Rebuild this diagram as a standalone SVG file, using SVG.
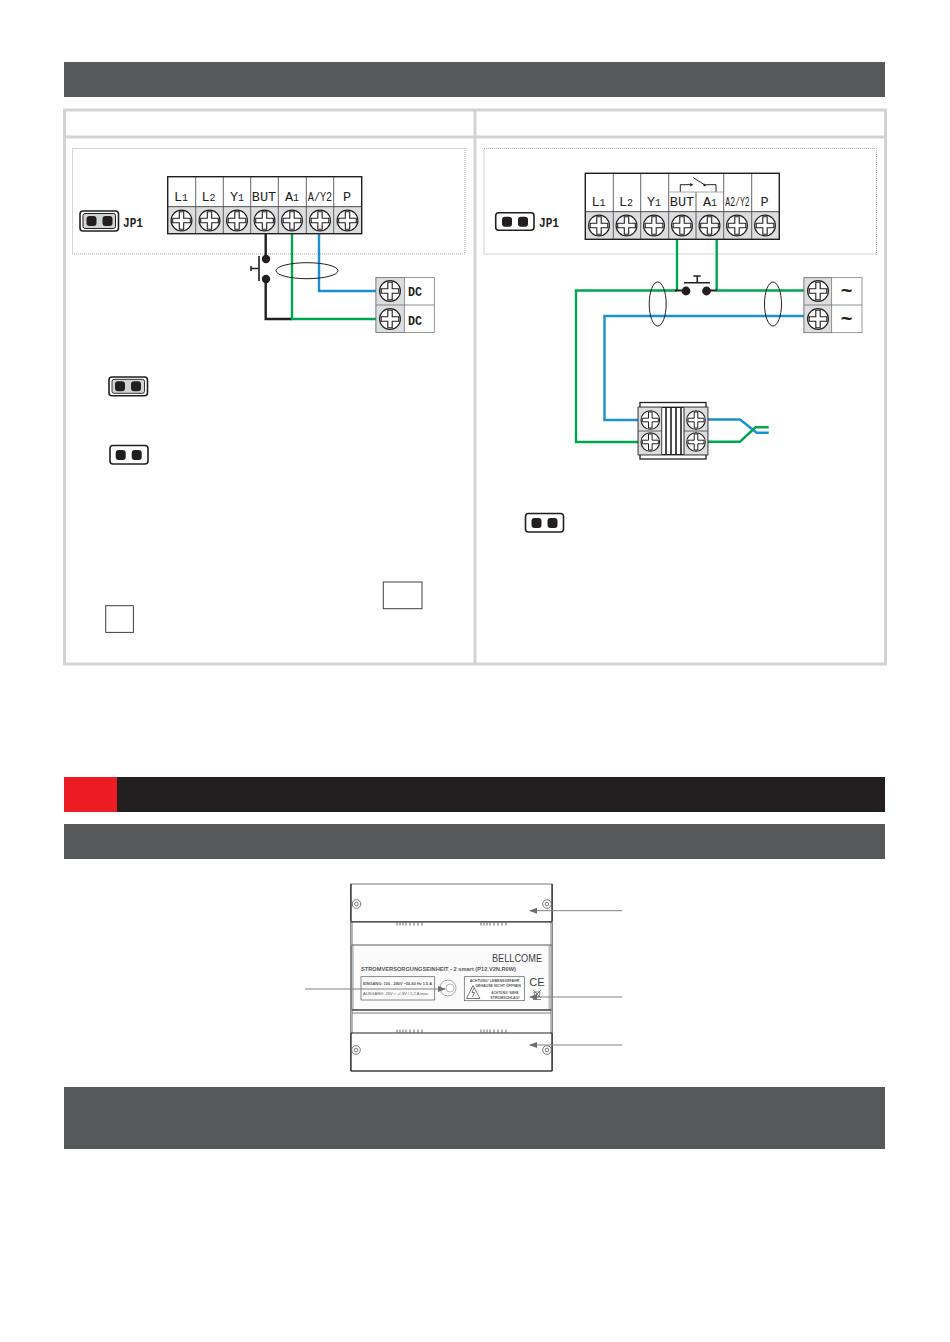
<svg xmlns="http://www.w3.org/2000/svg" xmlns:xlink="http://www.w3.org/1999/xlink" width="950" height="1342" viewBox="0 0 950 1342">
<style>
.bar{fill:#58595b}
.panel{fill:none;stroke:#d1d3d4;stroke-width:3}
.dash{fill:none;stroke:#a7a9ac;stroke-width:1;stroke-dasharray:1 1}
.cell{fill:#dcddde;stroke:#6d6e71;stroke-width:.7}
.lab{fill:#fff;stroke:#6d6e71;stroke-width:.7}
.div{stroke:#414042;stroke-width:.8;fill:none}
.t{font-family:"Liberation Mono","DejaVu Sans Mono",monospace;font-size:13.5px;fill:#231f20;text-anchor:middle;font-weight:400}
.s{font-size:10px}
.jp{font-family:"Liberation Mono","DejaVu Sans Mono",monospace;font-size:13px;fill:#231f20;font-weight:700}
.g{fill:none;stroke:#00a651;stroke-width:2.4}
.b{fill:none;stroke:#1b8fd2;stroke-width:2.4}
.k{fill:none;stroke:#231f20;stroke-width:2.4}
.thin{fill:none;stroke:#231f20;stroke-width:1}
.lead{fill:none;stroke:#808285;stroke-width:1;marker-end:url(#arrow)}
.dev{fill:none;stroke:#58595b;stroke-width:.8}
.devk{fill:none;stroke:#231f20;stroke-width:1.2}
.d{font-family:"Liberation Sans",Arial,sans-serif;fill:#58595b}
.dm{font-weight:700}
</style>
<defs>
<marker id="arrow" markerWidth="8" markerHeight="6" refX="7" refY="3" orient="auto" markerUnits="userSpaceOnUse"><path d="M8 0L0 3L8 6Z" transform="rotate(180 4 3)" fill="#6d6e71"/></marker>
<g id="screw"><circle r="10.4" fill="#fff" stroke="#231f20" stroke-width="1.2"/><path d="M-2.2-8.8H2.2V-2.2H8.8V2.2H2.2V8.8H-2.2V2.2H-8.8V-2.2H-2.2Z" fill="#fff" stroke="#231f20" stroke-width="1.1"/></g>
<g id="screw2"><circle r="9.3" fill="#fff" stroke="#231f20" stroke-width="1.1"/><path d="M-1.8-8H1.8V-1.8H8V1.8H1.8V8H-1.8V1.8H-8V-1.8H-1.8Z" fill="#fff" stroke="#231f20" stroke-width="1"/></g>
<g id="pins"><rect x="-5" y="-5" width="10" height="10" rx="3" fill="#231f20"/><rect x="11" y="-5" width="10" height="10" rx="3" fill="#231f20"/></g>
</defs>
<rect width="950" height="1342" fill="#fff"/>

<g id="header-top"><rect class="bar" x="64" y="62" width="821" height="35"/></g>
<g id="panels">
<rect class="panel" x="64.5" y="110" width="821" height="554"/>
<path class="panel" d="M475 110V664M64 137H886"/>
<rect class="dash" x="72.5" y="148.5" width="392.5" height="105.5"/>
<rect class="dash" x="484" y="148.5" width="392.5" height="105.5"/>
</g>

<g id="connectors">
<path class="k" d="M265.7 234V259M265.7 279V319H292"/>
<path class="g" d="M292 234V319H377"/>
<path class="b" d="M319 234V291H377"/>
<path class="g" d="M677 239V290.5M716.7 239V290.5"/>
<path class="g" d="M677 290.5H576V442H638.5M716.7 290.5H804"/>
<path class="b" d="M804 316H604.5V420H638.5"/>
<path class="k" style="stroke-width:2" d="M675 290.5H686M706.5 290.5H717"/>
<path class="b" d="M707.5 419.5H740L756.7 432.7H768.7"/>
<path class="g" d="M707.5 441.7H740L755.5 427.3H768.7"/>
</g>

<g id="terminal-left">
<rect class="lab" x="167.7" y="176.7" width="194" height="30"/>
<rect class="cell" x="167.7" y="206.7" width="194" height="27" style="stroke:none"/>
<path class="div" d="M195.7 176.7V233.7M223.3 176.7V233.7M250.7 176.7V233.7M278.3 176.7V233.7M306.3 176.7V233.7M333.7 176.7V233.7"/>
<rect x="167.7" y="176.7" width="194" height="57" fill="none" stroke="#231f20" stroke-width="1.4"/>
<path class="div" d="M167.7 206.7H361.7"/>
<use href="#screw" xlink:href="#screw" x="181.5" y="220.5"/><use href="#screw" xlink:href="#screw" x="209.5" y="220.5"/><use href="#screw" xlink:href="#screw" x="237" y="220.5"/><use href="#screw" xlink:href="#screw" x="264.5" y="220.5"/><use href="#screw" xlink:href="#screw" x="292" y="220.5"/><use href="#screw" xlink:href="#screw" x="320" y="220.5"/><use href="#screw" xlink:href="#screw" x="347.5" y="220.5"/>
<text class="t" x="181" y="201">L<tspan class="s">1</tspan></text>
<text class="t" x="208.5" y="201">L<tspan class="s">2</tspan></text>
<text class="t" x="237" y="201">Y<tspan class="s">1</tspan></text>
<text class="t" x="264" y="201">BUT</text>
<text class="t" x="292" y="201">A<tspan class="s">1</tspan></text>
<text class="t" transform="translate(320 201) scale(.85 1)" style="font-size:12px">A/Y2</text>
<text class="t" x="347" y="201">P</text>
</g>

<g id="jp1-left">
<rect x="80" y="211" width="38.5" height="20" rx="3" fill="#fff" stroke="#231f20" stroke-width="1.6"/>
<rect x="83" y="213.5" width="32.5" height="15" rx="2" fill="#d1d3d4" stroke="#231f20" stroke-width="1"/>
<use href="#pins" xlink:href="#pins" x="91.5" y="221"/>
<text class="jp" x="123" y="226.5" textLength="20" lengthAdjust="spacingAndGlyphs">JP1</text>
</g>

<g id="button-left">
<circle cx="266" cy="259" r="4.2" fill="#231f20"/><circle cx="266" cy="279" r="4.2" fill="#231f20"/>
<path class="k" style="stroke-width:1.6" d="M259 256V281M259 268.5H251M251 266V271"/>
<ellipse class="thin" cx="307" cy="270.7" rx="31" ry="8"/>
</g>

<g id="dc-terminal">
<rect class="lab" x="376" y="277.5" width="58.3" height="55"/>
<rect class="cell" x="376" y="277.5" width="28.3" height="55"/>
<path class="div" style="stroke:#6d6e71" d="M376 305H434.3"/>
<use href="#screw" xlink:href="#screw" x="390" y="291"/><use href="#screw" xlink:href="#screw" x="390" y="319"/>
<text class="t" x="415" y="295.5" style="font-weight:700" textLength="14" lengthAdjust="spacingAndGlyphs">DC</text>
<text class="t" x="415" y="324.5" style="font-weight:700" textLength="14" lengthAdjust="spacingAndGlyphs">DC</text>
</g>

<g id="jumper-closed"><rect x="109" y="377" width="38.5" height="18.7" rx="3" fill="#fff" stroke="#231f20" stroke-width="1.6"/><rect x="112" y="379.3" width="32.5" height="14" rx="2" fill="#d1d3d4" stroke="#231f20" stroke-width=".9"/><use href="#pins" xlink:href="#pins" x="120" y="386.3"/></g>
<g id="jumper-open"><rect x="110" y="445.5" width="38" height="18.5" rx="3" fill="#fff" stroke="#231f20" stroke-width="1.6"/><use href="#pins" xlink:href="#pins" x="120.7" y="455"/></g>
<g id="box-1"><rect x="383.3" y="582" width="38.7" height="26.7" fill="#fff" stroke="#414042" stroke-width="1"/></g>
<g id="box-2"><rect x="105.7" y="605.7" width="27.7" height="26.7" fill="#fff" stroke="#414042" stroke-width="1"/></g>

<g id="terminal-right">
<rect class="lab" x="585.3" y="173.3" width="194" height="38.4"/>
<rect class="cell" x="585.3" y="211.7" width="194" height="27.6" style="stroke:none"/>
<path class="div" d="M613.3 173.3V239.3M640.7 173.3V239.3M668.7 173.3V239.3M696 192V239.3M723.7 173.3V239.3M751.7 173.3V239.3"/>
<path d="M668.7 192H723.7" fill="none" stroke="#939598" stroke-width=".8"/>
<rect x="585.3" y="173.3" width="194" height="66" fill="none" stroke="#231f20" stroke-width="1.4"/>
<path class="div" d="M585.3 211.7H779.3"/>
<path class="thin" d="M680.3 191.7V184.7H691M693.3 177.7L706 185.7M706 184.7H716V191.7"/>
<path d="M693.3 184.7l-3-1.7v3.4Z" fill="#231f20"/>
<circle cx="704.5" cy="185" r="1.2" fill="#231f20"/>
<use href="#screw" xlink:href="#screw" x="599" y="225.5"/><use href="#screw" xlink:href="#screw" x="626.5" y="225.5"/><use href="#screw" xlink:href="#screw" x="654" y="225.5"/><use href="#screw" xlink:href="#screw" x="682" y="225.5"/><use href="#screw" xlink:href="#screw" x="709.5" y="225.5"/><use href="#screw" xlink:href="#screw" x="737" y="225.5"/><use href="#screw" xlink:href="#screw" x="765" y="225.5"/>
<text class="t" x="598.5" y="206">L<tspan class="s">1</tspan></text>
<text class="t" x="626" y="206">L<tspan class="s">2</tspan></text>
<text class="t" x="654" y="206">Y<tspan class="s">1</tspan></text>
<text class="t" x="682" y="206">BUT</text>
<text class="t" x="710" y="206">A<tspan class="s">1</tspan></text>
<text class="t" transform="translate(737.5 206) scale(.68 1)" style="font-size:12px">A2/Y2</text>
<text class="t" x="764.5" y="206">P</text>
</g>

<g id="jp1-right">
<rect x="495.7" y="212.7" width="38.3" height="17.5" rx="3" fill="#fff" stroke="#231f20" stroke-width="1.6"/>
<use href="#pins" xlink:href="#pins" x="507" y="221.7"/>
<text class="jp" x="539" y="226.5" textLength="20" lengthAdjust="spacingAndGlyphs">JP1</text>
</g>

<g id="button-right">
<circle cx="686" cy="291" r="4.4" fill="#231f20"/><circle cx="706.5" cy="291" r="4.4" fill="#231f20"/>
<path class="k" style="stroke-width:1.6" d="M684 282.8H710M697.3 282.8V276M693.3 276H700.7"/>
<ellipse class="thin" cx="657.7" cy="304" rx="8.5" ry="22"/>
<ellipse class="thin" cx="773" cy="304" rx="8.5" ry="22"/>
</g>

<g id="ac-terminal">
<rect class="lab" x="804" y="277.7" width="58" height="55"/>
<rect class="cell" x="804" y="277.7" width="27.7" height="55"/>
<path class="div" style="stroke:#6d6e71" d="M804 305H862"/>
<use href="#screw" xlink:href="#screw" x="818" y="291"/><use href="#screw" xlink:href="#screw" x="818" y="319"/>
<text class="t" x="846.5" y="297" style="font-size:20px;font-weight:700;font-family:'Liberation Sans',sans-serif">~</text>
<text class="t" x="846.5" y="325" style="font-size:20px;font-weight:700;font-family:'Liberation Sans',sans-serif">~</text>
</g>

<g id="transformer">
<rect x="640" y="402.5" width="66" height="56.5" fill="#fff" stroke="#231f20" stroke-width="1.3"/>
<rect x="638.3" y="407.3" width="69.4" height="47.4" fill="#fff" stroke="#231f20" stroke-width="1.4"/>
<rect class="cell" x="638.3" y="407.3" width="23.4" height="47.4"/>
<rect class="cell" x="684" y="407.3" width="23.7" height="47.4"/>
<path class="div" d="M638.3 431H661.7M684 431H707.7M661.7 407.3V454.7M684 407.3V454.7"/>
<path d="M666 407.3V454.7M671 407.3V454.7M676 407.3V454.7M681 407.3V454.7" fill="none" stroke="#231f20" stroke-width="1.6"/>
<use href="#screw2" xlink:href="#screw2" x="650.3" y="420"/><use href="#screw2" xlink:href="#screw2" x="650.3" y="442"/><use href="#screw2" xlink:href="#screw2" x="696" y="420"/><use href="#screw2" xlink:href="#screw2" x="696" y="442"/>
</g>

<g id="jumper-right"><rect x="525.5" y="513.5" width="38" height="18.5" rx="3" fill="#fff" stroke="#231f20" stroke-width="1.6"/><use href="#pins" xlink:href="#pins" x="536.5" y="523"/></g>

<g id="header-section"><rect x="64" y="777" width="821" height="35" fill="#231f20"/><rect x="64" y="777" width="53" height="35" fill="#ed1c24"/></g>
<g id="header-sub"><rect class="bar" x="64" y="824" width="821" height="35"/></g>

<g id="device">
<rect x="350.7" y="884" width="201.6" height="187" fill="#fff" stroke="#58595b" stroke-width=".8"/>
<path class="dev" d="M352 921V1033M551 921V1033M352 1013H551"/>
<path class="devk" d="M351 921.8H552M351 1033H552M351 1071H552M351 884V921M552 884V921M351 1033V1071M552 1033V1071"/>
<rect x="352" y="945" width="199" height="65" fill="#fbfbfb" stroke="#58595b" stroke-width="1"/>
<path d="M550 946V1009" stroke="#bcbec0" stroke-width="3" fill="none"/>
<path d="M353 946V1009" stroke="#bcbec0" stroke-width="1.5" fill="none"/>
<path d="M352 1010H551" stroke="#58595b" stroke-width="1.4" fill="none"/>
<path d="M397 922.5v3M400 922.5v3M403 922.5v3M406 922.5v3M410 922.5v3M414 922.5v3M418 922.5v3M422 922.5v3M481 922.5v3M484 922.5v3M487 922.5v3M490 922.5v3M494 922.5v3M498 922.5v3M502 922.5v3M506 922.5v3M397 1029.5v3M400 1029.5v3M403 1029.5v3M406 1029.5v3M410 1029.5v3M414 1029.5v3M418 1029.5v3M422 1029.5v3M481 1029.5v3M484 1029.5v3M487 1029.5v3M490 1029.5v3M494 1029.5v3M498 1029.5v3M502 1029.5v3M506 1029.5v3" stroke="#414042" stroke-width=".8" fill="none"/>
<g fill="#fff" stroke="#58595b" stroke-width=".8"><circle cx="356.5" cy="904" r="4.3"/><circle cx="547" cy="904" r="4.3"/><circle cx="356" cy="1050" r="4.3"/><circle cx="547" cy="1050" r="4.3"/><circle cx="356.5" cy="904" r="1.8"/><circle cx="547" cy="904" r="1.8"/><circle cx="356" cy="1050" r="1.8"/><circle cx="547" cy="1050" r="1.8"/></g>
<text class="d" x="492" y="962" font-size="10.5" textLength="50" lengthAdjust="spacingAndGlyphs" style="fill:#414042">BELLCOME</text>
<text class="d dm" x="361" y="971" font-size="5.4" textLength="155" lengthAdjust="spacingAndGlyphs">STROMVERSORGUNGSEINHEIT - 2 smart (P12.V2N.R0W)</text>
<rect x="361" y="976.7" width="73.7" height="23.3" fill="none" stroke="#58595b" stroke-width=".7"/>
<text class="d dm" x="363" y="985" font-size="3.8" textLength="69" lengthAdjust="spacingAndGlyphs">EINGANG: 100 - 280V ~50-60 Hz 1.5 A</text>
<text class="d" x="363" y="995" font-size="3.8" textLength="66" lengthAdjust="spacingAndGlyphs">AUSGANG: 26V⎓ +/-3V / 1,2 A max.</text>
<circle cx="448" cy="988" r="8" fill="#fff" stroke="#939598" stroke-width=".8"/><circle cx="450" cy="988" r="4" fill="none" stroke="#a7a9ac" stroke-width=".8"/>
<rect x="464.3" y="976.7" width="60" height="24" fill="#fff" stroke="#58595b" stroke-width=".7"/>
<text class="d dm" x="494.5" y="981.5" font-size="3.6" text-anchor="middle">ACHTUNG! LEBENSGEFAHR</text>
<text class="d dm" x="498" y="986.5" font-size="3.6" text-anchor="middle">GEHÄUSE NICHT ÖFFNEN</text>
<text class="d dm" x="505" y="994" font-size="3.2" text-anchor="middle">ACHTUNG! SIEHE</text>
<text class="d dm" x="505" y="998.5" font-size="3.6" text-anchor="middle">STROMSCHLAG!</text>
<path d="M473 985.5L480 998.5H466.5Z" fill="#fff" stroke="#414042" stroke-width=".7"/>
<path d="M474 988L472 992.5H474.5L472.5 997" fill="none" stroke="#414042" stroke-width=".7"/>
<text x="537" y="985.5" font-size="11" text-anchor="middle" font-family="Liberation Sans, sans-serif" fill="#414042">CE</text>
<path d="M533 990L541 998M541 990L533 998M534 992H540L539 997H535ZM533 999.5H541" fill="none" stroke="#58595b" stroke-width=".7"/>
</g>
<g id="device-leaders">
<path class="lead" d="M622 910.7H530"/>
<path class="lead" d="M305 989H445"/>
<path class="lead" d="M622 997H530"/>
<path class="lead" d="M622 1045H530"/>
</g>
<g id="header-bottom"><rect class="bar" x="64" y="1087" width="821" height="62"/></g>
</svg>
